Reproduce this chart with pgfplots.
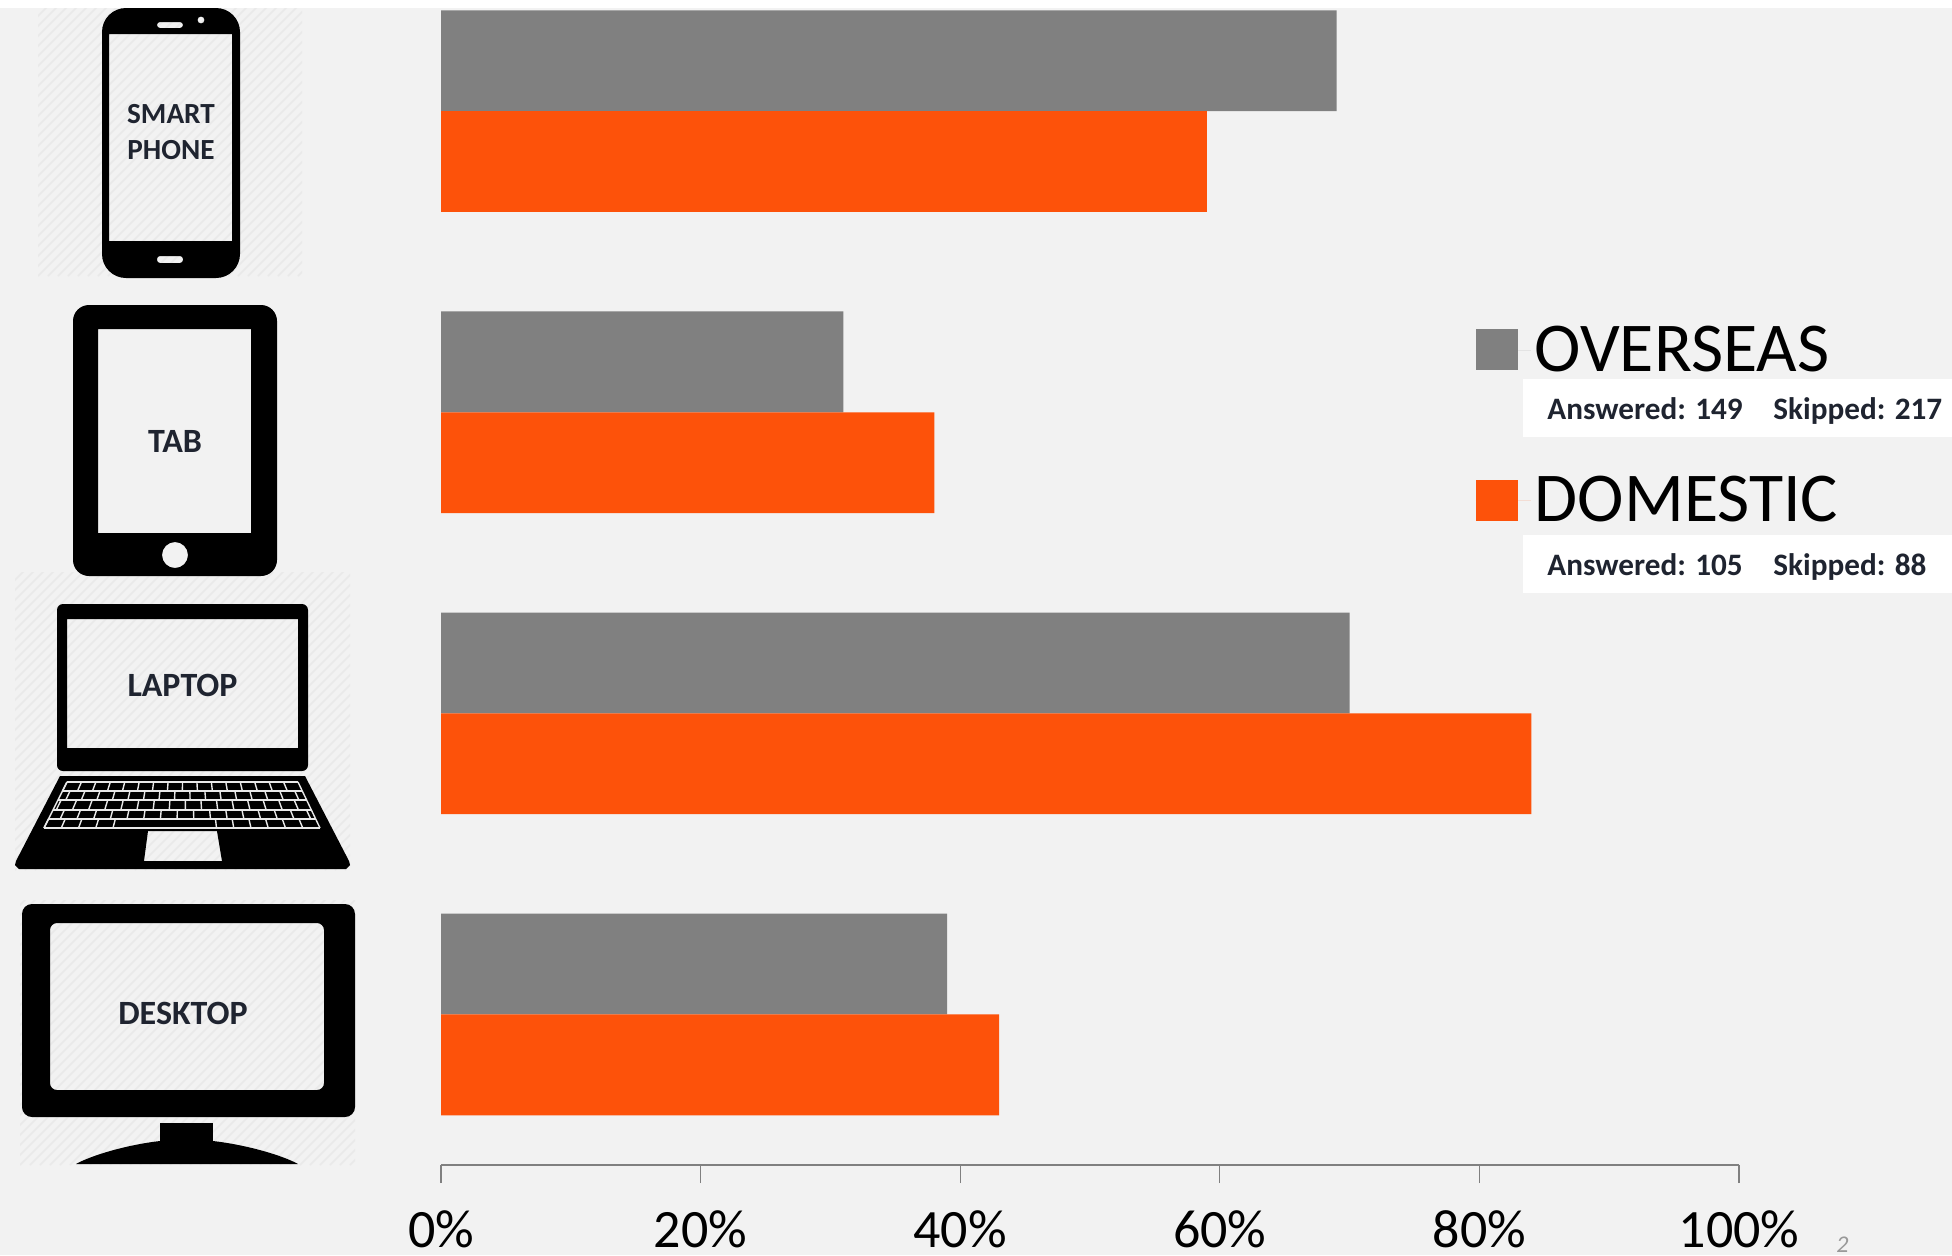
\documentclass[border=0pt]{standalone}
\usepackage{pgfplots}
\pgfplotsset{compat=1.18}
\usepackage{pgfplotstable}
\usepackage{fontspec}
\setmainfont{Carlito}
\definecolor{bgc}{HTML}{F2F2F2}
\definecolor{hatchc}{HTML}{E9E9E9}
\definecolor{greybar}{HTML}{808080}
\definecolor{orangebar}{HTML}{FD520A}
\definecolor{lab}{HTML}{1F2430}
\pgfplotstableread{
y overseas domestic
0 39 43
1 70 84
2 31 38
3 69 59
}\devicedata
\newcommand\hatch[4]{\begin{scope}\clip (#1,#2) rectangle (#3,#4);
\foreach \i in {-340,-330,...,400}{\draw[hatchc,line width=0.8pt] ({#1+\i},#4) -- ++(340,-340);}
\end{scope}}
\begin{document}
\begin{tikzpicture}
\path[use as bounding box] (0,0) rectangle (976pt,-627.5pt);
\clip (0,0) rectangle (976pt,-627.5pt);
\begin{scope}[x=0.5pt,y=-0.5pt]
\fill[white] (0,0) rectangle (1952,1255);
\fill[bgc] (0,8) rectangle (1952,1255);
\hatch{38}{8}{302}{276}
\hatch{15}{572}{350}{870}
\hatch{20}{900}{355}{1165}
% smartphone
\fill[black,even odd rule,rounded corners=12pt] (102,8) rectangle (240,278)
  [sharp corners] (109,34) rectangle (232,241)
  [rounded corners=1.5pt] (157,22) rectangle (183,28) (157,256) rectangle (183,263)
  [sharp corners] (201,20) circle (3.5);
% tablet
\fill[black,even odd rule,rounded corners=8pt] (73,305) rectangle (277,576)
  [sharp corners] (98,329) rectangle (251,533) (175,555) circle (13);
% laptop
\fill[black,even odd rule,rounded corners=3pt] (57,604) rectangle (308,771)
  [sharp corners] (67,619) rectangle (298,748);
\fill[black,even odd rule] (60,776) -- (305,776) -- (349,861)
  -- (350,865) -- (346,869) -- (19,869) -- (15,865) -- (16,861) -- cycle
  (148,831) -- (217,831) -- (222,861) -- (144,861) -- cycle;
\foreach \yy in {782,791,800,810,819,828}{
  \pgfmathsetmacro\fr{(\yy-782)/46}
  \draw[hatchc,line width=0.7pt] ({67-23*\fr},\yy) -- ({298+22*\fr},\yy);}
\foreach \r/\off in {0/0.0,1/0.5,2/0.2,3/0.7,4/0.0}{
  \pgfmathsetmacro\ya{782+\r*9.2}\pgfmathsetmacro\yb{\ya+9.2}
  \pgfmathsetmacro\fa{(\ya-782)/46}\pgfmathsetmacro\fb{(\yb-782)/46}
  \foreach \k in {0,...,15}{
    \pgfmathsetmacro\t{(\k+\off)/16}
    \draw[hatchc,line width=0.7pt]
      ({(67-23*\fa)+(231+45*\fa)*\t},\ya) -- ({(67-23*\fb)+(231+45*\fb)*\t},\yb);}}
\draw[hatchc,line width=0.7pt] (44,828) -- (67,782) (320,828) -- (298,782);
\fill[black] (120,820) rectangle (212,827);
% desktop
\fill[black,even odd rule,rounded corners=5pt] (22,904) rectangle (355,1117)
  [rounded corners=3.5pt] (50,923) rectangle (324,1090);
\fill[black] (160,1123) rectangle (213,1145);
\fill[black] (76,1164) .. controls (90,1156) and (125,1145) .. (160,1141) -- (213,1141)
  .. controls (248,1145) and (284,1156) .. (298,1164) -- cycle;
% icon labels
\node[font=\fontsize{14.6pt}{14.6pt}\selectfont\bfseries,text=lab] at (171,114) {SMART};
\node[font=\fontsize{14.6pt}{14.6pt}\selectfont\bfseries,text=lab] at (171,150) {PHONE};
\node[font=\fontsize{17pt}{17pt}\selectfont\bfseries,text=lab] at (175,441) {TAB};
\node[font=\fontsize{17pt}{17pt}\selectfont\bfseries,text=lab] at (182.5,685) {LAPTOP};
\node[font=\fontsize{17pt}{17pt}\selectfont\bfseries,text=lab] at (183,1013) {DESKTOP};
% white info boxes
\fill[white] (1523,379) rectangle (1952,437);
\fill[white] (1523,535) rectangle (1952,593);
\node[anchor=base west,inner sep=0,font=\fontsize{15.6pt}{15.6pt}\selectfont\bfseries,text=lab] at (1547,419) {Answered: 149};
\node[anchor=base west,inner sep=0,font=\fontsize{15.6pt}{15.6pt}\selectfont\bfseries,text=lab] at (1773,419) {Skipped: 217};
\node[anchor=base west,inner sep=0,font=\fontsize{15.6pt}{15.6pt}\selectfont\bfseries,text=lab] at (1547,575) {Answered: 105};
\node[anchor=base west,inner sep=0,font=\fontsize{15.6pt}{15.6pt}\selectfont\bfseries,text=lab] at (1773,575) {Skipped: 88};
\node[anchor=base west,inner sep=0,font=\fontsize{12pt}{12pt}\selectfont\itshape,text=gray!80] at (1836,1252) {2};
\end{scope}
\begin{axis}[
  at={(220.5pt,-582.5pt)},anchor=south west,
  scale only axis,
  width=649pt,height=577.5pt,
  xmin=0,xmax=100,
  ymin=-0.5,ymax=3.336,
  clip=false,
  axis x line=bottom,
  axis y line=none,
  x axis line style={-,draw=greybar,line width=1.2pt},
  xtick={0,20,40,60,80,100},
  xticklabels={0\%,20\%,40\%,60\%,80\%,100\%},
  xtick align=outside,
  major tick length=9pt,
  x tick style={draw=greybar,line width=0.6pt},
  xticklabel style={font=\fontsize{27pt}{27pt}\selectfont,text=black,inner sep=0pt,yshift=-13.5pt},
  ytick=\empty,
  legend cell align=left,
  legend style={at={(axis cs:79.72,2.30)},anchor=north west,draw=none,fill=none,
    inner sep=0pt,outer sep=0pt,row sep=47pt,
    font=\fontsize{35pt}{35pt}\selectfont},
  legend image code/.code={\fill[#1,draw=none] (0pt,-10pt) rectangle (21pt,10.5pt);\path (0pt,0pt) -- (27.5pt,0pt);},
]
\addplot[xbar,bar width=50.4pt,bar shift=25.2pt,fill=greybar,draw=none] table[x=overseas,y=y] {\devicedata};
\addlegendentry{OVERSEAS}
\addplot[xbar,bar width=50.4pt,bar shift=-25.2pt,fill=orangebar,draw=none] table[x=domestic,y=y] {\devicedata};
\addlegendentry{DOMESTIC}
\end{axis}
\end{tikzpicture}
\end{document}
